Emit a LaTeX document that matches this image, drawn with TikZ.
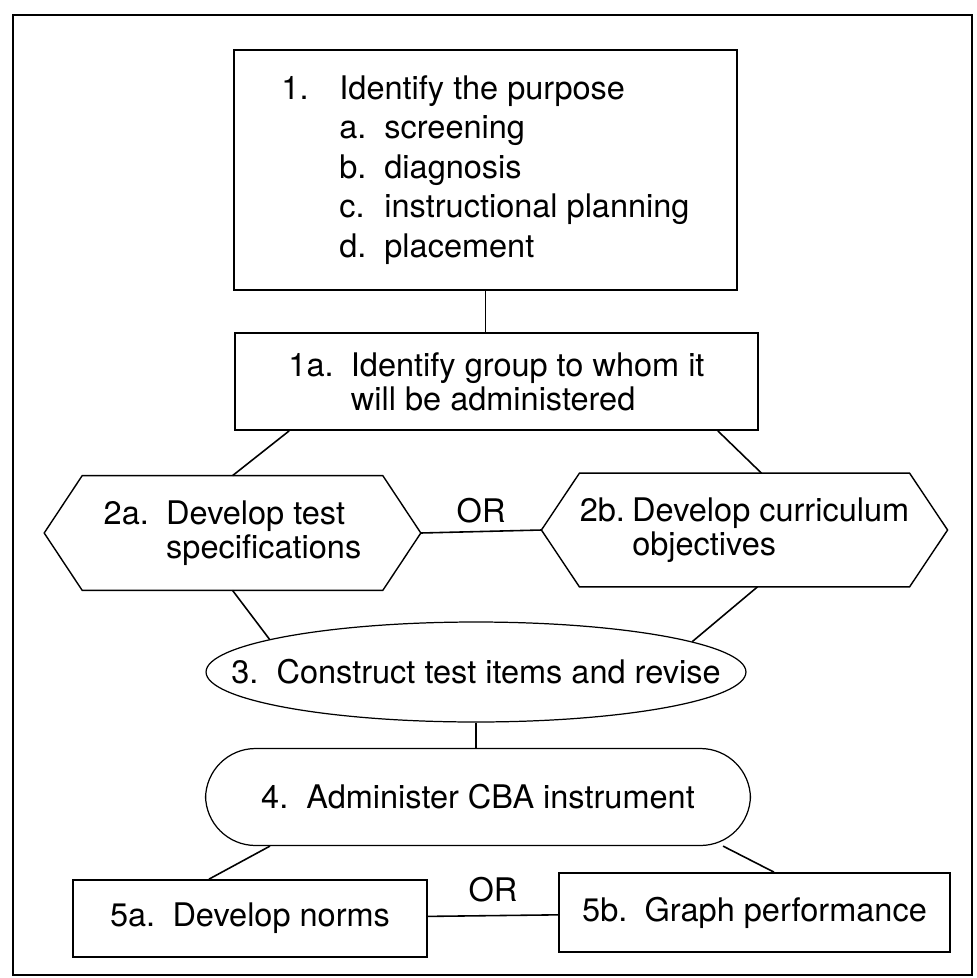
\documentclass[tikz,border=0pt]{standalone}
\usepackage{fontspec}
\setmainfont{TeX Gyre Heros}
\usetikzlibrary{shapes.geometric}
\newcommand{\lbl}[2][1.25cm]{\makebox[#1][l]{#2}}
\newcommand{\purposeitem}[2]{\hspace*{1.16cm}\makebox[0.9cm][l]{#1}#2}

\begin{document}
\begin{tikzpicture}[x=0.02cm,y=-0.02cm,draw=black,
  every node/.style={font=\fontsize{18.5}{19.5}\selectfont},
  sqbox/.style={draw,line width=1pt,align=left,inner sep=0pt},
  hexbox/.style={rectangle,align=left,inner sep=0pt},
  hexline/.style={line width=0.8pt,line join=miter},
  ovalbox/.style={draw,line width=0.7pt,ellipse,inner sep=0pt},
  roundbox/.style={draw,line width=0.7pt,rectangle,rounded corners=1cm,inner sep=0pt},
  link/.style={line width=0.9pt}]
\useasboundingbox (0,0) rectangle (977,978);
\draw[line width=0.6pt] (13,15) rectangle (972,975);

\node[sqbox,minimum width=10.06cm,minimum height=4.8cm,
  font=\fontsize{18.5}{22.5}\selectfont] (purpose) at (485.5,170)
  {\lbl[1.16cm]{1.}Identify the purpose\\
   \purposeitem{a.}{screening}\\
   \purposeitem{b.}{diagnosis}\\
   \purposeitem{c.}{instructional planning}\\
   \purposeitem{d.}{placement}};
\node[sqbox,minimum width=10.46cm,minimum height=1.94cm] (group) at (496.5,381.5)
  {\lbl{1a.}Identify group to whom it\\\hspace*{1.25cm}will be administered};

\node[hexbox,minimum width=6cm,minimum height=2.28cm] (testspec) at (232.5,533)
  {\lbl{2a.}Develop test\\\hspace*{1.25cm}specifications};
\node[hexbox,minimum width=6.5cm,minimum height=2.26cm] (curric) at (744.5,530)
  {\lbl[1.05cm]{2b.}Develop curriculum\\\hspace*{1.05cm}objectives};
\foreach \h in {testspec,curric}
  \draw[hexline] (\h.north west) -- (\h.north east) -- ([xshift=0.76cm]\h.east)
    -- (\h.south east) -- (\h.south west) -- ([xshift=-0.76cm]\h.west) -- cycle;

\node[ovalbox,minimum width=10.8cm,minimum height=2cm,
  label={center:3.\ \ Construct test items and revise}] (construct) at (476,672) {};
\node[roundbox,minimum width=10.9cm,minimum height=1.94cm] (administer) at (478,797)
  {4.\ \ Administer CBA instrument};

\node[sqbox,minimum width=7.08cm,minimum height=1.54cm] (norms) at (250,918.5)
  {\lbl{5a.}Develop norms};
\node[sqbox,minimum width=7.82cm,minimum height=1.58cm] (graph) at (754.5,912.5)
  {\lbl{5b.}Graph performance};

\draw[link] (purpose.south) -- (purpose.south |- group.north);
\draw[link] ([xshift=1.1cm]group.south west) -- (testspec.north);
\draw[link] ([xshift=-0.82cm]group.south east) -- ([xshift=0.34cm]curric.north);
\draw[link] ([xshift=0.76cm]testspec.east) -- node[above=1pt] (or1) {OR}
  ([xshift=-0.76cm]curric.west);
\draw[link] (testspec.south) -- (construct.171);
\draw[link] ([xshift=0.26cm]curric.south) -- (construct.8);
\draw[link] (construct.south) -- (construct.south |- administer.north);
\draw[link] ([xshift=1.3cm]administer.south west) -- ([xshift=-0.82cm]norms.north);
\draw[link] ([xshift=-0.56cm]administer.south east) -- ([xshift=0.39cm]graph.north);
\draw[link] (norms) -- node[above=4pt] (or2) {OR} (graph);
\end{tikzpicture}
\end{document}
